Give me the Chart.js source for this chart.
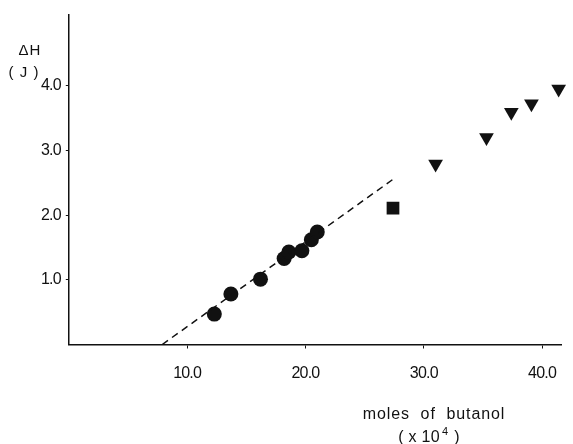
<!DOCTYPE html>
<html>
<head>
<meta charset="utf-8">
<script src="https://cdn.jsdelivr.net/npm/chart.js@4/dist/chart.umd.min.js"></script>
<style>
	body { margin: 0; background: #fff; }
	canvas { display: block; }
</style>
</head>
<body>
<canvas id="chart" width="573" height="444"></canvas>
<script>
// data
var circleX = [12.3, 13.7, 16.2, 18.2, 18.6, 19.7, 20.5, 21.0];
var circleY = [0.47, 0.78, 1.01, 1.33, 1.43, 1.45, 1.62, 1.74];
var squareX = [27.4];
var squareY = [2.11];
var triX = [31.0, 35.3, 37.4, 39.1, 41.4];
var triY = [2.79, 3.20, 3.59, 3.72, 3.95];
var fitX = [7.9, 27.6];
var fitY = [0, 2.58];
var xTicks = [10, 20, 30, 40];
var yTicks = [1, 2, 3, 4];

function pts(xs, ys) {
	return xs.map(function(x, i) { return {x: x, y: ys[i]}; });
}

var ink = "#111";
var font = "'Liberation Sans', Arial, sans-serif";

// tight digit spacing on the tick labels, like the scan
var tight = {
	id: "tight",
	beforeDraw: function(chart) { chart.ctx.letterSpacing = "-0.8px"; }
};

// axis titles sit off-center, so draw them by hand
var titles = {
	id: "titles",
	afterDraw: function(chart) {
		var c = chart.ctx;
		c.save();
		c.fillStyle = ink;
		c.textBaseline = "middle";
		c.textAlign = "center";
		c.font = "15px " + font;
		c.letterSpacing = "1px";
		c.fillText("\u0394H", 30, 51);
		c.fillText("( J )", 24, 73);
		c.font = "16px " + font;
		c.letterSpacing = "0.9px";
		c.fillText("moles  of  butanol", 434, 415);
		// ( x 10^4 )
		c.textAlign = "left";
		c.letterSpacing = "0.3px";
		var a = "( x 10", b = " )";
		var wa = c.measureText(a).width;
		var wb = c.measureText(b).width;
		c.font = "11px " + font;
		var ws = c.measureText("4").width + 3;
		var x0 = 429 - (wa + ws + wb) / 2;
		c.fillText("4", x0 + wa + 2, 432);
		c.font = "16px " + font;
		c.fillText(a, x0, 438);
		c.fillText(b, x0 + wa + ws, 438);
		c.restore();
	}
};

new Chart(document.getElementById("chart"), {
	type: "scatter",
	data: {
		datasets: [{
			data: pts(fitX, fitY),
			showLine: true,
			borderColor: ink,
			borderWidth: 1.5,
			borderDash: [7, 5],
			pointRadius: 0
		}, {
			data: pts(circleX, circleY),
			pointStyle: "circle",
			pointRadius: 7.5,
			backgroundColor: ink,
			borderColor: ink,
			borderWidth: 0
		}, {
			data: pts(squareX, squareY),
			pointStyle: "rect",
			pointRadius: 9,
			backgroundColor: ink,
			borderColor: ink,
			borderWidth: 0
		}, {
			data: pts(triX, triY),
			pointStyle: "triangle",
			rotation: 180,
			pointRadius: 8.5,
			backgroundColor: ink,
			borderColor: ink,
			borderWidth: 0,
			clip: false
		}]
	},
	options: {
		responsive: false,
		animation: false,
		devicePixelRatio: 1,
		layout: { padding: { top: 14.5, right: 7, left: 0, bottom: 0 } },
		plugins: { legend: { display: false }, tooltip: { enabled: false } },
		scales: {
			x: {
				type: "linear",
				min: 0,
				max: 41.6,
				afterBuildTicks: function(s) { s.ticks = xTicks.map(function(v) { return {value: v}; }); },
				afterFit: function(s) { s.height = 99.5; },
				border: { display: true, color: ink, width: 1.5 },
				grid: { drawOnChartArea: false, drawTicks: true, tickLength: 4, color: ink },
				ticks: {
					color: ink,
					padding: 15,
					maxRotation: 0,
					font: { family: font, size: 16 },
					callback: function(v) { return v.toFixed(1); }
				}
			},
			y: {
				type: "linear",
				min: 0,
				max: 5.1,
				afterBuildTicks: function(s) { s.ticks = yTicks.map(function(v) { return {value: v}; }); },
				afterFit: function(s) { s.width = 68.8; },
				border: { display: true, color: ink, width: 1.5 },
				grid: { drawOnChartArea: false, drawTicks: true, tickLength: 3, color: ink },
				ticks: {
					color: ink,
					padding: 5,
					font: { family: font, size: 16 },
					callback: function(v) { return v.toFixed(1); }
				}
			}
		}
	},
	plugins: [tight, titles]
});
</script>
</body>
</html>
